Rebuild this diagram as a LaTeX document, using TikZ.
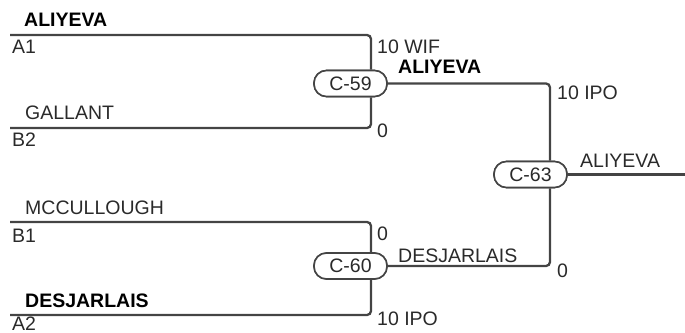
\documentclass[tikz,border=0pt]{standalone}
\usepackage{fontspec}
\setmainfont{Liberation Sans}
\definecolor{wirecol}{HTML}{444444}
\definecolor{txtcol}{HTML}{2A2A2A}
\begin{document}
\begin{tikzpicture}[x=1pt,y=-1pt,
  font=\fontsize{19.5}{23}\selectfont,
  wire/.style={draw=wirecol, line width=2.3pt, rounded corners=4pt},
  game/.style={draw=wirecol, line width=1.6pt, fill=white, rounded corners=12.5pt,
    minimum width=73pt, minimum height=26pt, inner sep=0pt, text=txtcol},
  lbl/.style={anchor=base west, inner sep=0pt, text=txtcol},
  win/.style={lbl, text=black, font=\fontsize{19.5}{23}\selectfont\bfseries}]
\useasboundingbox (0,0) rectangle (685,332);
% games
\node[game] (c59) at (350.5,83.5) {C-59};
\node[game] (c60) at (350.5,266) {C-60};
\node[game] (c63) at (530.5,174.5) {C-63};
% wire coordinates
\coordinate (a1) at (10,35);
\coordinate (b2) at (10,128);
\coordinate (b1) at (10,222);
\coordinate (a2) at (10,315);
\coordinate (v1) at (371,0);
\coordinate (v2) at (550,0);
\coordinate (out) at (685,174.5);
% connectors
\draw[wire] (a1) -| (c59.north -| v1);
\draw[wire] (b2) -| (c59.south -| v1);
\draw[wire] (b1) -| (c60.north -| v1);
\draw[wire] (a2) -| (c60.south -| v1);
\draw[wire] (c59.east) -| (c63.north -| v2);
\draw[wire] (c60.east) -| (c63.south -| v2);
\draw[wire] (c63.east) -- (out);
% redraw nodes on top
\node[game] at (c59) {C-59};
\node[game] at (c60) {C-60};
\node[game] at (c63) {C-63};
% labels
\node[win] (n1) at (24,26) {ALIYEVA};
\node[lbl] (s1) at (12,53) {A1};
\node[lbl] (sc1) at (377,53) {10 WIF};
\node[win] (n59) at (398,73) {ALIYEVA};
\node[lbl] (n2) at (25,119) {GALLANT};
\node[lbl] (s2) at (12,146) {B2};
\node[lbl] (sc2) at (377,137) {0};
\node[lbl] (sc59) at (557,99) {10 IPO};
\node[lbl] (n63) at (580,167) {ALIYEVA};
\node[lbl] (n3) at (25,214) {MCCULLOUGH};
\node[lbl] (s3) at (12,242) {B1};
\node[lbl] (sc3) at (377,240) {0};
\node[lbl] (n60) at (398,262) {DESJARLAIS};
\node[lbl] (sc60) at (557,277) {0};
\node[win] (n4) at (25,307) {DESJARLAIS};
\node[lbl] (s4) at (12,330) {A2};
\node[lbl] (sc4) at (377,325) {10 IPO};
\end{tikzpicture}
\end{document}
